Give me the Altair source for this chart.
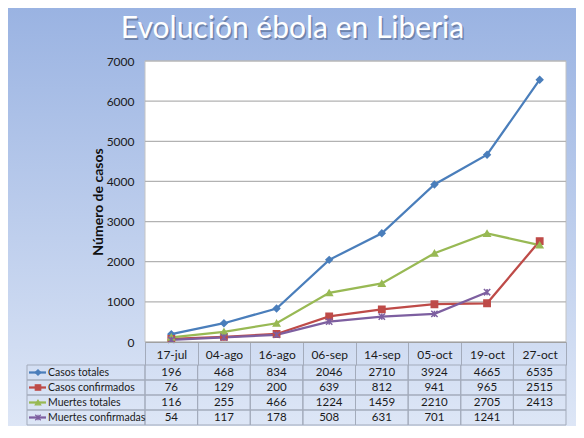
import altair as alt
import pandas as pd

title_text = "Evolución ébola en Liberia"
categories = ["17-jul", "04-ago", "16-ago", "06-sep", "14-sep", "05-oct", "19-oct", "27-oct"]
series = ["Casos totales", "Casos confirmados", "Muertes totales", "Muertes confirmadas"]
casos_totales = [196, 468, 834, 2046, 2710, 3924, 4665, 6535]
casos_confirmados = [76, 129, 200, 639, 812, 941, 965, 2515]
muertes_totales = [116, 255, 466, 1224, 1459, 2210, 2705, 2413]
muertes_confirmadas = [54, 117, 178, 508, 631, 701, 1241, None]
y_ticks = [0, 1000, 2000, 3000, 4000, 5000, 6000, 7000]
colors = ["#4A7EBB", "#BE4B48", "#98B954", "#7D5FA0"]
shapes = ["diamond", "square", "triangle-up", "M-1,-1L1,1M-1,1L1,-1M0,-1L0,1"]

values = [casos_totales, casos_confirmados, muertes_totales, muertes_confirmadas]
rows = []
for s, vals in zip(series, values):
    for c, v in zip(categories, vals):
        rows.append({"cat": c, "series": s, "value": v,
                     "label": "" if v is None else str(v)})
df = pd.DataFrame(rows)
leg = pd.DataFrame({"series": series})
ticks_df = pd.DataFrame({"t": y_ticks})
one = pd.DataFrame({"a": [0]})
title_df = pd.DataFrame({"title": [title_text]})

FONT = "Lato"
W, H = 421, 281
GRID = "#B2B2B2"
CELL = "#A3ABBB"

x_enc = alt.X("cat:N", sort=categories,
              scale=alt.Scale(type="band", domain=categories, paddingInner=0, paddingOuter=0),
              axis=alt.Axis(title=None, labelAngle=0, domain=True, domainColor="#A0A0A0",
                            ticks=True, tickSize=23, tickColor=CELL, tickBand="extent",
                            labelPadding=-11, labelBaseline="middle", labelFont=FONT,
                            labelFontSize=12, labelColor="#1a1a1a", grid=False, zindex=1))
y_val = alt.Y("value:Q", scale=alt.Scale(domain=[0, 7000], nice=False),
              axis=alt.Axis(values=y_ticks, format="d", grid=False, ticks=False, domain=False,
                            labelFont=FONT, labelFontSize=12, labelColor="#1a1a1a",
                            labelPadding=11, title="Número de casos", titleFont=FONT,
                            titleFontSize=14, titleFontWeight="bold", titleColor="#111",
                            titlePadding=1, zindex=1))
y_row = alt.Y("series:N", sort=series,
              scale=alt.Scale(type="band", domain=series, range=[304, 364],
                              paddingInner=0, paddingOuter=0),
              axis=None)
color = alt.Color("series:N", scale=alt.Scale(domain=series, range=colors), legend=None)
shape = alt.Shape("series:N", scale=alt.Scale(domain=series, range=shapes), legend=None)
stroke = alt.Stroke("series:N", scale=alt.Scale(domain=series, range=colors), legend=None)

bg = alt.Chart(one).mark_rect(
    color=alt.Gradient(gradient="linear", x1=0, y1=0, x2=0, y2=1,
                       stops=[alt.GradientStop(color="#9AB3E2", offset=0),
                              alt.GradientStop(color="#DDE6F6", offset=1)])
).encode(x=alt.value(-137), x2=alt.value(431), y=alt.value(-53), y2=alt.value(365))

title_shadow = alt.Chart(title_df).mark_text(
    font=FONT, fontSize=30, color="#3A4A6A", opacity=0.45, align="center", baseline="alphabetic"
).encode(x=alt.value(149), y=alt.value(-21.5), text="title:N")
title_mark = alt.Chart(title_df).mark_text(
    font=FONT, fontSize=30, color="white", align="center", baseline="alphabetic"
).encode(x=alt.value(147.5), y=alt.value(-23), text="title:N")

plot_bg = alt.Chart(one).mark_rect(color="white", stroke="#C4C4C4", strokeWidth=1).encode(
    x=alt.value(0), x2=alt.value(W), y=alt.value(0), y2=alt.value(H))

grid = alt.Chart(ticks_df).mark_rule(color=GRID, strokeWidth=1.2).encode(
    y=alt.Y("t:Q", scale=alt.Scale(domain=[0, 7000], nice=False), axis=None))

cells = alt.Chart(df).mark_rect(fillOpacity=0, stroke=CELL, strokeWidth=1).encode(
    x=x_enc, y=y_row)
cell_text = alt.Chart(df).mark_text(font=FONT, fontSize=11.5, color="#1a1a1a",
                                    baseline="middle").encode(x=x_enc, y=y_row, text="label:N")

leg_cells = alt.Chart(leg).mark_rect(fillOpacity=0, stroke=CELL, strokeWidth=1).encode(
    x=alt.value(-118), x2=alt.value(0), y=y_row)
leg_lines = alt.Chart(leg).mark_rule(strokeWidth=2.25).encode(
    x=alt.value(-116), x2=alt.value(-99), y=y_row, color=color)
leg_pts = alt.Chart(leg).mark_point(filled=True, opacity=1, size=30, strokeWidth=1.2).encode(
    x=alt.value(-107), y=y_row, color=color, shape=shape, stroke=stroke)
leg_text = alt.Chart(leg).mark_text(font=FONT, fontSize=10.5, color="#1a1a1a", align="left",
                                    baseline="middle").encode(
    x=alt.value(-97), y=y_row, text="series:N")

lines = alt.Chart(df).mark_line(strokeWidth=2.25).encode(
    x=x_enc, y=y_val, color=color, detail="series:N")
pts = alt.Chart(df).mark_point(filled=True, opacity=1, size=40, strokeWidth=1.5).encode(
    x=x_enc, y=alt.Y("value:Q", scale=alt.Scale(domain=[0, 7000], nice=False), axis=None),
    color=color, shape=shape, stroke=stroke)

chart = alt.layer(
    bg, title_shadow, title_mark, plot_bg, grid, lines, cells, cell_text,
    leg_cells, leg_lines, leg_pts, leg_text, pts
).resolve_scale(y="independent").properties(
    width=W, height=H,
    autosize=alt.AutoSizeParams(type="none"),
    padding={"left": 137, "top": 53, "right": 10, "bottom": 84},
).configure_view(stroke=None, fill=None).configure(background="#DDE6F6")

chart.save("out.html", embed_options={"renderer": "svg", "actions": False})
